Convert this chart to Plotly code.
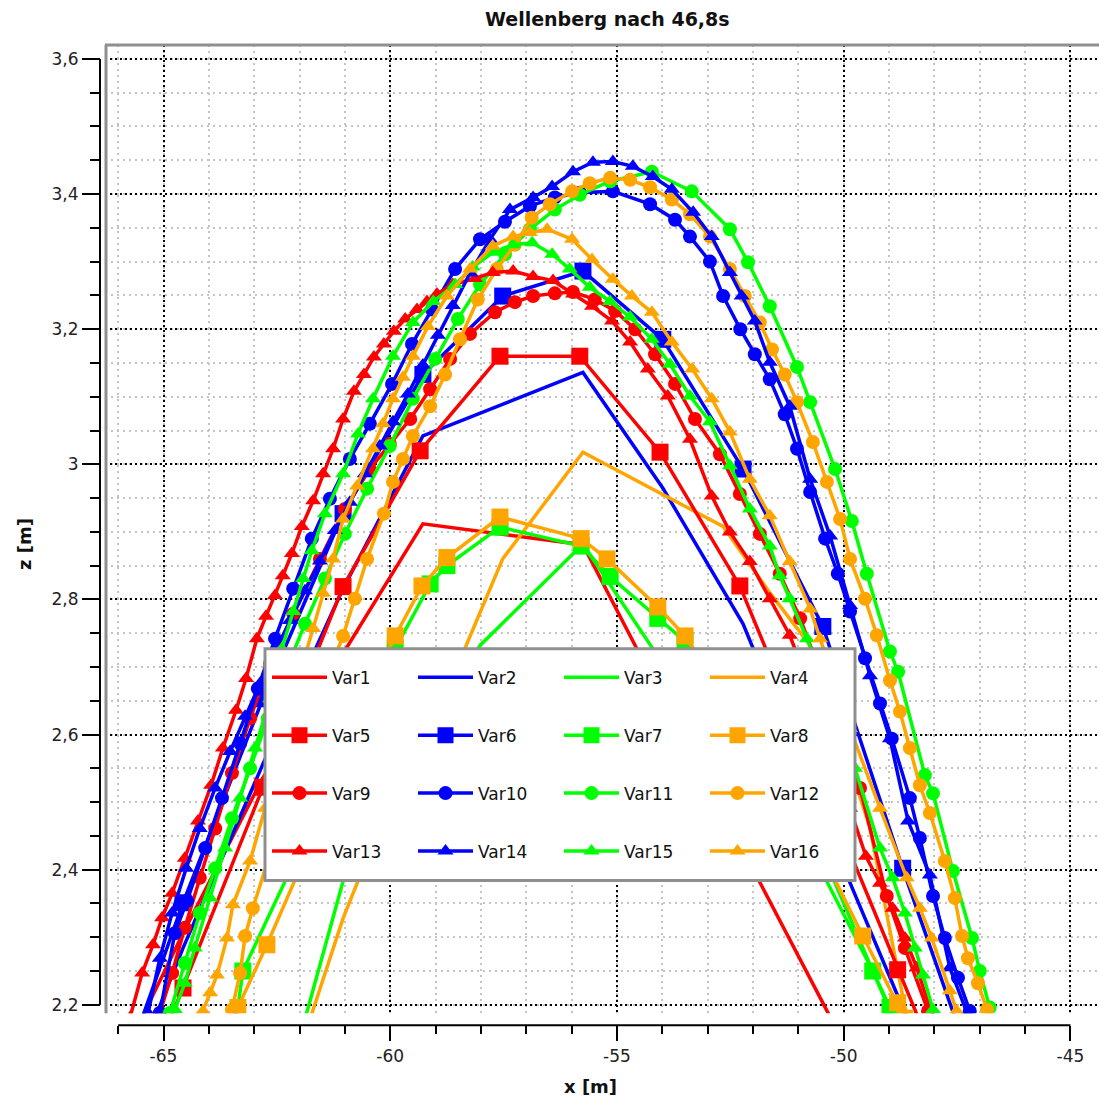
import plotly.graph_objects as go

# ---------------- data (x in m, z in m) ----------------
var1_x = [-66.33, -64.57, -62.81, -61.04, -59.28, -55.75, -53.99, -52.22, -50.46, -48.70]
var1_y = [2.063, 2.306, 2.536, 2.720, 2.912, 2.881, 2.653, 2.429, 2.203, 1.974]

var2_x = [-66.33, -64.57, -62.81, -61.04, -59.28, -55.75, -53.99, -52.22, -50.46, -48.70, -47.00]
var2_y = [1.989, 2.284, 2.556, 2.816, 3.042, 3.136, 2.965, 2.764, 2.476, 2.196, 1.915]

var3_x = [-62.43, -61.83, -61.04, -59.28, -58.02, -55.75, -53.99, -52.22, -50.24, -48.98, -48.76]
var3_y = [2.080, 2.191, 2.383, 2.587, 2.732, 2.882, 2.705, 2.521, 2.388, 2.191, 2.151]

var4_x = [-61.92, -61.04, -60.16, -59.28, -58.40, -57.52, -55.75, -52.66, -51.63, -50.74, -49.42, -48.65, -48.40]
var4_y = [2.148, 2.328, 2.476, 2.597, 2.720, 2.860, 3.018, 2.908, 2.810, 2.732, 2.462, 2.196, 2.150]

var5_x = [-66.33, -64.57, -62.81, -61.04, -59.34, -57.58, -55.82, -54.05, -52.29, -50.55, -48.81, -47.04]
var5_y = [1.930, 2.225, 2.522, 2.819, 3.020, 3.160, 3.160, 3.018, 2.820, 2.535, 2.252, 1.967]

var6_x = [-66.33, -64.57, -62.81, -61.04, -59.28, -57.52, -55.75, -53.99, -52.22, -50.46, -48.70, -46.93]
var6_y = [2.018, 2.351, 2.653, 2.927, 3.133, 3.249, 3.286, 3.185, 2.993, 2.760, 2.402, 2.063]

var7_x = [-63.42, -63.25, -61.50, -59.89, -59.12, -58.75, -57.58, -55.79, -55.15, -54.10, -53.50, -52.29, -50.97, -49.36, -48.98]
var7_y = [2.166, 2.250, 2.500, 2.727, 2.823, 2.850, 2.907, 2.879, 2.834, 2.772, 2.738, 2.609, 2.461, 2.250, 2.196]

var8_x = [-63.58, -63.36, -62.72, -61.99, -61.11, -60.45, -59.89, -59.30, -58.75, -57.58, -55.79, -55.22, -54.10, -53.50, -52.29, -50.97, -49.58, -48.81, -48.65]
var8_y = [2.166, 2.196, 2.289, 2.402, 2.565, 2.668, 2.746, 2.820, 2.862, 2.922, 2.890, 2.860, 2.789, 2.746, 2.624, 2.491, 2.302, 2.203, 2.180]

var9_x = [-65.08, -64.81, -64.53, -64.20, -63.86, -63.49, -63.09, -62.65, -62.14, -61.55, -61.00, -60.45, -60.01, -59.56,
          -59.12, -58.68, -58.24, -57.69, -57.25, -56.85, -56.37, -55.97, -55.49, -55.04, -54.60, -54.16, -53.72, -53.28,
          -52.73, -52.29, -51.85, -51.41, -50.96, -50.30, -49.64, -49.05, -48.65, -48.14]
var9_y = [2.188, 2.247, 2.314, 2.388, 2.461, 2.543, 2.624, 2.705, 2.779, 2.860, 2.934, 2.993, 3.030, 3.067,
          3.111, 3.156, 3.193, 3.225, 3.240, 3.249, 3.253, 3.255, 3.244, 3.227, 3.200, 3.163, 3.119, 3.067,
          3.015, 2.956, 2.897, 2.838, 2.772, 2.653, 2.521, 2.361, 2.284, 2.191]

var10_x = [-65.08, -64.75, -64.48, -64.08, -63.71, -63.31, -62.92, -62.54, -62.14, -61.73, -61.33, -60.89, -60.45, -59.96,
           -59.52, -59.08, -58.57, -58.02, -57.47, -56.92, -56.37, -55.82, -55.09, -54.27, -53.72, -53.39, -52.95, -52.66,
           -52.28, -51.96, -51.63, -51.30, -51.03, -50.74, -50.41, -50.13, -49.86, -49.53, -49.20, -48.94, -48.54, -48.32,
           -48.03, -47.77, -47.48, -47.22]
var10_y = [2.188, 2.306, 2.354, 2.432, 2.506, 2.587, 2.668, 2.742, 2.816, 2.890, 2.949, 3.008, 3.060, 3.119,
           3.178, 3.229, 3.289, 3.333, 3.359, 3.382, 3.395, 3.402, 3.404, 3.385, 3.362, 3.337, 3.300, 3.249,
           3.200, 3.163, 3.126, 3.074, 3.023, 2.959, 2.890, 2.838, 2.782, 2.713, 2.646, 2.594, 2.506, 2.447,
           2.361, 2.299, 2.240, 2.191]

var11_x = [-64.86, -64.53, -64.20, -63.86, -63.49, -63.09, -62.70, -62.30, -61.88, -61.44, -61.00, -60.51, -60.01, -59.50,
           -59.01, -58.51, -58.02, -57.47, -56.92, -56.37, -55.82, -55.15, -54.23, -53.35, -52.51, -52.11, -51.63, -51.03,
           -50.74, -50.19, -49.82, -49.49, -48.98, -48.80, -48.21, -48.03, -47.59, -47.17, -47.00, -46.78]
var11_y = [2.188, 2.262, 2.336, 2.402, 2.476, 2.550, 2.624, 2.695, 2.764, 2.831, 2.897, 2.964, 3.027, 3.097,
           3.156, 3.215, 3.266, 3.311, 3.348, 3.377, 3.399, 3.419, 3.433, 3.404, 3.348, 3.299, 3.234, 3.144,
           3.092, 2.993, 2.916, 2.838, 2.723, 2.693, 2.540, 2.513, 2.398, 2.299, 2.250, 2.196]

var12_x = [-63.49, -63.31, -63.20, -63.03, -62.54, -61.99, -61.50, -61.04, -60.78, -60.51, -60.14, -59.94, -59.72, -59.50,
           -59.12, -58.79, -58.46, -58.07, -57.65, -57.25, -56.88, -56.48, -55.99, -55.60, -55.15, -54.71, -54.27, -53.79,
           -53.39, -52.95, -52.51, -52.18, -51.85, -51.58, -51.30, -51.03, -50.68, -50.37, -50.08, -49.86, -49.53, -49.27,
           -48.98, -48.76, -48.54, -48.32, -48.10, -47.77, -47.55, -47.39, -47.26, -47.04, -46.84]
var12_y = [2.193, 2.247, 2.302, 2.343, 2.447, 2.565, 2.668, 2.746, 2.801, 2.860, 2.927, 2.974, 3.008, 3.042,
           3.086, 3.133, 3.185, 3.244, 3.289, 3.325, 3.365, 3.385, 3.404, 3.416, 3.424, 3.421, 3.410, 3.392,
           3.370, 3.337, 3.289, 3.249, 3.210, 3.170, 3.133, 3.092, 3.033, 2.974, 2.919, 2.860, 2.801, 2.747,
           2.680, 2.634, 2.580, 2.525, 2.484, 2.413, 2.358, 2.302, 2.269, 2.232, 2.193]

var13_x = [-65.74, -65.47, -65.23, -65.03, -64.81, -64.53, -64.24, -63.95, -63.69, -63.40, -63.18, -62.94, -62.74, -62.54,
           -62.37, -62.17, -61.95, -61.70, -61.48, -61.26, -61.04, -60.80, -60.58, -60.36, -60.14, -59.92, -59.67, -59.41,
           -59.19, -58.97, -58.62, -58.13, -57.74, -57.29, -56.85, -56.41, -55.97, -55.55, -55.11, -54.71, -54.32, -53.88,
           -53.39, -52.91, -52.51, -52.07, -51.63, -51.19, -50.74, -50.30, -49.86, -49.51, -49.20, -48.92, -48.65, -48.39,
           -48.10, -47.88]
var13_y = [2.181, 2.247, 2.289, 2.329, 2.365, 2.417, 2.472, 2.525, 2.580, 2.636, 2.683, 2.742, 2.775, 2.806,
           2.835, 2.868, 2.908, 2.946, 2.986, 3.023, 3.067, 3.108, 3.133, 3.159, 3.178, 3.197, 3.215, 3.229,
           3.241, 3.252, 3.266, 3.275, 3.284, 3.286, 3.278, 3.272, 3.252, 3.234, 3.212, 3.181, 3.141, 3.101,
           3.037, 2.953, 2.900, 2.856, 2.801, 2.747, 2.668, 2.580, 2.491, 2.420, 2.380, 2.343, 2.299, 2.255,
           2.196, 2.166]

var14_x = [-65.34, -65.08, -64.81, -64.50, -64.20, -63.86, -63.53, -63.20, -62.87, -62.54, -62.21, -61.88, -61.55, -61.22,
           -60.89, -60.56, -60.23, -59.94, -59.61, -59.28, -58.95, -58.62, -58.24, -57.80, -57.36, -56.85, -56.43, -55.97,
           -55.53, -55.09, -54.65, -54.21, -53.79, -53.32, -52.91, -52.51, -52.25, -51.96, -51.63, -51.19, -50.74, -50.30,
           -49.86, -49.42, -48.98, -48.58, -48.10, -47.66, -47.28]
var14_y = [2.188, 2.269, 2.336, 2.402, 2.461, 2.521, 2.575, 2.627, 2.676, 2.723, 2.769, 2.813, 2.857, 2.902,
           2.944, 2.986, 3.027, 3.063, 3.104, 3.147, 3.191, 3.235, 3.283, 3.333, 3.377, 3.395, 3.411, 3.433,
           3.447, 3.448, 3.441, 3.426, 3.407, 3.373, 3.337, 3.284, 3.249, 3.212, 3.151, 3.086, 2.978, 2.894,
           2.791, 2.687, 2.594, 2.472, 2.392, 2.255, 2.188]

var15_x = [-64.75, -64.53, -64.31, -63.97, -63.64, -63.31, -62.98, -62.65, -62.39, -62.14, -61.92, -61.73, -61.44, -61.04,
           -60.71, -60.38, -59.94, -59.50, -59.05, -58.57, -58.18, -57.73, -57.29, -56.87, -56.43, -56.04, -55.60, -55.15,
           -54.71, -54.23, -53.83, -53.39, -52.95, -52.51, -52.07, -51.63, -51.41, -51.19, -50.81, -50.30, -49.75, -49.20,
           -48.92, -48.65, -48.43, -48.25, -48.03]
var15_y = [2.193, 2.232, 2.284, 2.358, 2.432, 2.506, 2.580, 2.653, 2.727, 2.782, 2.831, 2.872, 2.927, 2.986,
           3.045, 3.097, 3.160, 3.210, 3.241, 3.266, 3.292, 3.314, 3.325, 3.328, 3.311, 3.289, 3.262, 3.241,
           3.218, 3.185, 3.148, 3.101, 3.063, 2.998, 2.934, 2.879, 2.835, 2.801, 2.742, 2.653, 2.550, 2.432,
           2.388, 2.336, 2.284, 2.244, 2.193]

var16_x = [-64.13, -63.97, -63.82, -63.60, -63.47, -63.09, -62.76, -62.43, -62.10, -61.70, -61.48, -61.26, -61.04, -60.73,
           -60.38, -60.16, -59.94, -59.72, -59.50, -59.17, -58.75, -58.24, -57.74, -57.29, -56.92, -56.54, -55.99, -55.55,
           -55.09, -54.67, -54.23, -53.79, -53.34, -52.91, -52.51, -52.07, -51.63, -51.19, -50.74, -50.52, -49.86, -49.20,
           -48.61, -48.32, -48.06, -47.66, -47.51]
var16_y = [2.191, 2.218, 2.244, 2.299, 2.348, 2.413, 2.491, 2.580, 2.668, 2.757, 2.809, 2.860, 2.919, 2.968,
           3.023, 3.060, 3.097, 3.129, 3.160, 3.204, 3.249, 3.289, 3.323, 3.337, 3.343, 3.348, 3.333, 3.303,
           3.274, 3.249, 3.225, 3.181, 3.141, 3.097, 3.048, 2.978, 2.924, 2.856, 2.786, 2.742, 2.609, 2.491,
           2.388, 2.343, 2.299, 2.221, 2.191]

series_names = ["Var%d" % i for i in range(1, 17)]
series_x = [var1_x, var2_x, var3_x, var4_x, var5_x, var6_x, var7_x, var8_x,
            var9_x, var10_x, var11_x, var12_x, var13_x, var14_x, var15_x, var16_x]
series_y = [var1_y, var2_y, var3_y, var4_y, var5_y, var6_y, var7_y, var8_y,
            var9_y, var10_y, var11_y, var12_y, var13_y, var14_y, var15_y, var16_y]

x_tick_vals = [-65, -60, -55, -50, -45]
x_tick_text = ["-65", "-60", "-55", "-50", "-45"]
y_tick_vals = [2.2, 2.4, 2.6, 2.8, 3.0, 3.2, 3.4, 3.6]
y_tick_text = ["2,2", "2,4", "2,6", "2,8", "3", "3,2", "3,4", "3,6"]

# ---------------- style ----------------
colors = ["#FF0000", "#0000FF", "#00FF00", "#FFA500"]
symbols = [None, "square", "circle", "triangle-up"]
msizes = [0, 17, 14, 14]
legends = ["legend", "legend2", "legend3", "legend4"]

W, H = 1099, 1104
def px(x):
    return x / W
def py(y):
    return 1 - y / H

fig = go.Figure()
for i in range(16):
    grp = i // 4
    col = colors[i % 4]
    kw = dict(x=series_x[i], y=series_y[i], name=series_names[i],
              line=dict(color=col, width=3.5), legend=legends[grp])
    if symbols[grp] is None:
        kw["mode"] = "lines"
    else:
        kw["mode"] = "lines+markers"
        kw["marker"] = dict(symbol=symbols[grp], size=msizes[grp], color=col, line=dict(width=0))
    fig.add_trace(go.Scatter(**kw))

font_fam = "DejaVu Sans, Verdana, sans-serif"
tickfont = dict(family=font_fam, size=17, color="#222222")

plot_l, plot_r, plot_t, plot_b = 105, 1099, 45, 1015
xaxis_y = 1027
yaxis_x = 100

fig.update_layout(
    width=W, height=H,
    margin=dict(l=0, r=0, t=0, b=0),
    paper_bgcolor="white", plot_bgcolor="white",
    showlegend=True,
    xaxis=dict(
        domain=[px(plot_l), px(plot_r)], range=[-66.29, -44.37],
        anchor="free", position=py(xaxis_y),
        tickmode="array", tickvals=x_tick_vals, ticktext=x_tick_text,
        ticks="outside", ticklen=15, tickwidth=2, tickcolor="black",
        tickfont=tickfont, showline=False, zeroline=False,
        showgrid=True, gridcolor="black", gridwidth=1.5, griddash="2px,3px",
        minor=dict(tickmode="linear", tick0=-66, dtick=1, ticks="outside", ticklen=8,
                   tickwidth=2, tickcolor="black", showgrid=True, gridcolor="#c4c4c4",
                   gridwidth=1.5, griddash="2px,4px"),
    ),
    yaxis=dict(
        domain=[py(plot_b), py(plot_t)], range=[2.1877, 3.6207],
        anchor="free", position=px(yaxis_x),
        tickmode="array", tickvals=y_tick_vals, ticktext=y_tick_text,
        ticks="outside", ticklen=18, tickwidth=2, tickcolor="black",
        tickfont=tickfont, showline=False, zeroline=False,
        showgrid=True, gridcolor="black", gridwidth=1.5, griddash="2px,3px",
        minor=dict(tickmode="linear", tick0=2.2, dtick=0.05, ticks="outside", ticklen=10,
                   tickwidth=2, tickcolor="black", showgrid=True, gridcolor="#c4c4c4",
                   gridwidth=1.5, griddash="2px,4px"),
    ),
)

leg_rows = [679, 737, 795, 853]
leg_font = dict(family=font_fam, size=17, color="#111111")
for lg, ry in zip(legends, leg_rows):
    fig.update_layout({lg: dict(orientation="h", x=px(267), y=py(ry), xanchor="left", yanchor="middle",
                                entrywidth=76, entrywidthmode="pixels", itemwidth=55,
                                bgcolor="rgba(0,0,0,0)", borderwidth=0, font=leg_font,
                                tracegroupgap=0)})

shapes = [
    # legend box
    dict(type="rect", xref="paper", yref="paper", x0=px(265), x1=px(855), y0=py(882), y1=py(650),
         fillcolor="white", line=dict(color="#8f8f8f", width=3), layer="above"),
    # grey frame of plot area
    dict(type="line", xref="paper", yref="paper", x0=px(105), x1=1, y0=py(45), y1=py(45),
         line=dict(color="#8f8f8f", width=3), layer="above"),
    dict(type="line", xref="paper", yref="paper", x0=px(106), x1=px(106), y0=py(45), y1=py(1015),
         line=dict(color="#8f8f8f", width=3), layer="above"),
    # axis lines
    dict(type="line", xref="x", yref="paper", x0=-66, x1=-45, y0=py(xaxis_y), y1=py(xaxis_y),
         line=dict(color="black", width=2), layer="above"),
    dict(type="line", xref="paper", yref="y", x0=px(yaxis_x), x1=px(yaxis_x), y0=2.2, y1=3.6,
         line=dict(color="black", width=2), layer="above"),
]
fig.update_layout(shapes=shapes)

annotations = [
    dict(text="<b>Wellenberg nach 46,8s</b>", xref="paper", yref="paper", x=px(607), y=py(19),
         xanchor="center", yanchor="middle", showarrow=False,
         font=dict(family=font_fam, size=19, color="#111111")),
    dict(text="<b>x [m]</b>", xref="paper", yref="paper", x=px(590), y=py(1088),
         xanchor="center", yanchor="middle", showarrow=False,
         font=dict(family=font_fam, size=18, color="#111111")),
    dict(text="<b>z [m]</b>", xref="paper", yref="paper", x=px(24), y=py(545),
         xanchor="center", yanchor="middle", showarrow=False, textangle=-90,
         font=dict(family=font_fam, size=18, color="#111111")),
]
fig.update_layout(annotations=annotations)

fig.write_html("out.html")
